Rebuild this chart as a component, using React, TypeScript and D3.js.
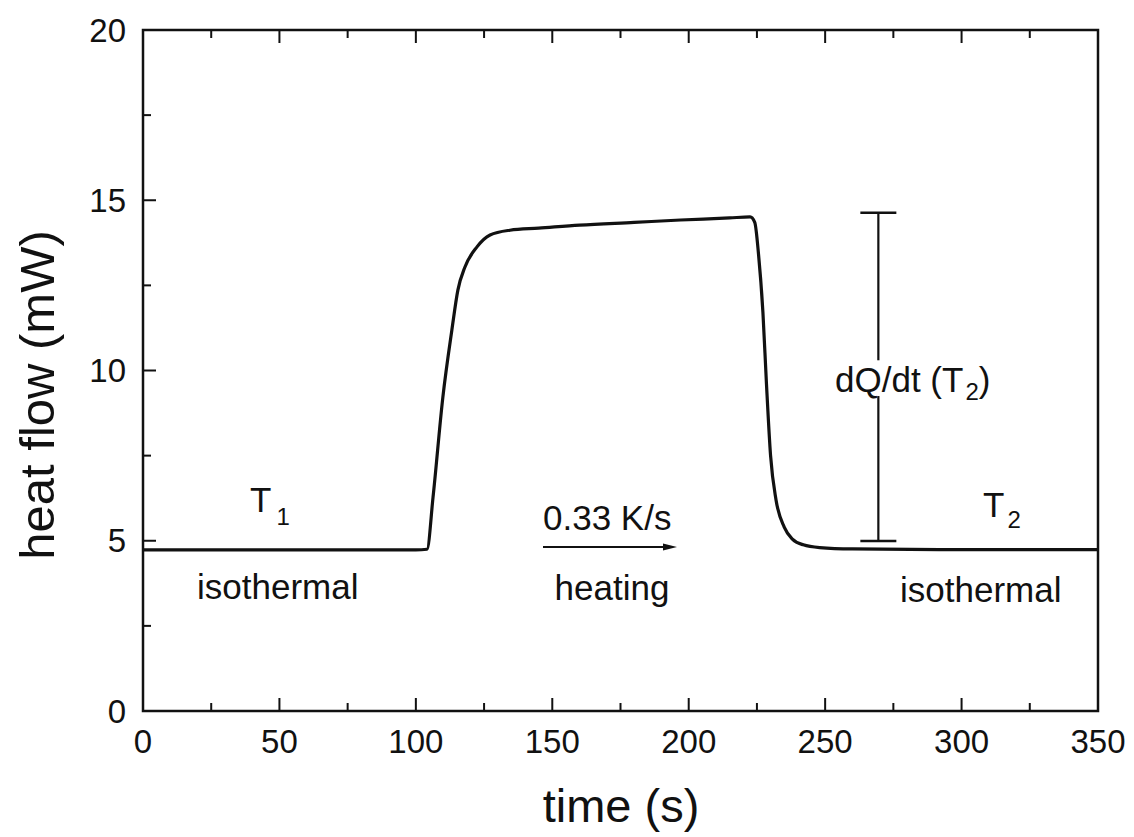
import React from "react";
import * as d3 from "d3";

// Heat flow trace of a step-heating DSC run
const timeS = [
  0, 50, 100, 104.1, 106.3, 109.9, 113.2, 115.4, 118.0, 122.4, 127.2, 134.5,
  145, 160, 180, 197, 215, 222.5, 224.2, 225.6, 227.2, 228.5, 230, 232, 235,
  238, 242, 248, 260, 300, 350,
];
const heatFlowMW = [
  4.73, 4.73, 4.73, 4.75, 6.28, 9.22, 11.19, 12.36, 13.04, 13.63, 13.98, 14.12,
  14.18, 14.27, 14.35, 14.42, 14.48, 14.51, 14.35, 13.4, 11.7, 9.6, 7.5, 6.2,
  5.4, 5.05, 4.88, 4.8, 4.76, 4.74, 4.74,
];

const xMajorTicks = [0, 50, 100, 150, 200, 250, 300, 350];
const xMinorTicks = [25, 75, 125, 175, 225, 275, 325];
const yMajorTicks = [0, 5, 10, 15, 20];
const yMinorTicks = [2.5, 7.5, 12.5, 17.5];

// Step height marker at T2
const stepTime = 269.5;
const stepTop = 14.63;
const stepBottom = 4.99;
// label interrupts the marker between these heat flow values
const stepGapHigh = 10.3;
const stepGapLow = 9.25;

const W = 1134;
const H = 837;
const left = 143;
const right = 1098;
const top = 30;
const bottom = 711;

const FONT = "'Liberation Sans', Arial, Helvetica, sans-serif";
const INK = "#111";

export default function App() {
  const x = d3.scaleLinear().domain([0, 350]).range([left, right]);
  const y = d3.scaleLinear().domain([0, 20]).range([bottom, top]);

  const line = d3
    .line<number>()
    .x((_, i) => x(timeS[i]))
    .y((d) => y(d))
    .curve(d3.curveMonotoneX);

  const pathD = line(heatFlowMW) || "";

  const majorLen = 13;
  const minorLen = 8;

  const xs = x(stepTime);
  const capHalf = 18;

  // arrow for heating ramp
  const arrowY = 547;
  const arrowX0 = 543;
  const arrowX1 = 677;

  return (
    <svg
      width={W}
      height={H}
      viewBox={`0 0 ${W} ${H}`}
      style={{ position: "absolute", left: 0, top: 0, background: "#fff" }}
      fontFamily={FONT}
    >
      <rect x={0} y={0} width={W} height={H} fill="#fff" />

      {/* frame */}
      <rect
        x={left}
        y={top}
        width={right - left}
        height={bottom - top}
        fill="none"
        stroke={INK}
        strokeWidth={2.5}
      />

      {/* bottom and top ticks */}
      {xMajorTicks.map((t) => (
        <g key={`xM${t}`}>
          <line x1={x(t)} x2={x(t)} y1={bottom} y2={bottom - majorLen} stroke={INK} strokeWidth={2} />
          <line x1={x(t)} x2={x(t)} y1={top} y2={top + majorLen} stroke={INK} strokeWidth={2} />
          <text x={x(t)} y={bottom + 42} textAnchor="middle" fontSize={33} fill={INK}>
            {t}
          </text>
        </g>
      ))}
      {xMinorTicks.map((t) => (
        <g key={`xm${t}`}>
          <line x1={x(t)} x2={x(t)} y1={bottom} y2={bottom - minorLen} stroke={INK} strokeWidth={2} />
          <line x1={x(t)} x2={x(t)} y1={top} y2={top + minorLen} stroke={INK} strokeWidth={2} />
        </g>
      ))}

      {/* left ticks */}
      {yMajorTicks.map((v) => (
        <g key={`yM${v}`}>
          <line x1={left} x2={left + majorLen} y1={y(v)} y2={y(v)} stroke={INK} strokeWidth={2} />
          <text
            x={left - 17}
            y={y(v)}
            textAnchor="end"
            dominantBaseline="central"
            fontSize={33}
            fill={INK}
          >
            {v}
          </text>
        </g>
      ))}
      {yMinorTicks.map((v) => (
        <line key={`ym${v}`} x1={left} x2={left + minorLen} y1={y(v)} y2={y(v)} stroke={INK} strokeWidth={2} />
      ))}

      {/* axis titles */}
      <text x={621} y={822} textAnchor="middle" fontSize={47} fill={INK}>
        time (s)
      </text>
      <text
        transform={`translate(54, 395) rotate(-90)`}
        textAnchor="middle"
        fontSize={49}
        fill={INK}
      >
        heat flow (mW)
      </text>

      {/* heat flow curve */}
      <path d={pathD} fill="none" stroke={INK} strokeWidth={3.2} strokeLinejoin="round" />

      {/* step height marker, broken by its label */}
      <line x1={xs} x2={xs} y1={y(stepTop)} y2={y(stepGapHigh)} stroke={INK} strokeWidth={2.2} />
      <line x1={xs} x2={xs} y1={y(stepGapLow)} y2={y(stepBottom)} stroke={INK} strokeWidth={2.2} />
      <line x1={xs - capHalf} x2={xs + capHalf} y1={y(stepTop)} y2={y(stepTop)} stroke={INK} strokeWidth={2.5} />
      <line x1={xs - capHalf} x2={xs + capHalf} y1={y(stepBottom)} y2={y(stepBottom)} stroke={INK} strokeWidth={2.5} />

      {/* heating arrow */}
      <line x1={arrowX0} x2={arrowX1 - 10} y1={arrowY} y2={arrowY} stroke={INK} strokeWidth={2} />
      <path
        d={`M${arrowX1},${arrowY} L${arrowX1 - 14},${arrowY - 3.5} L${arrowX1 - 14},${arrowY + 3.5} Z`}
        fill={INK}
      />

      {/* annotations */}
      <text x={250} y={512} fontSize={35} fill={INK}>
        T<tspan fontSize={24} dx={5} dy={13}>1</tspan>
      </text>
      <text x={197} y={599} fontSize={35} fill={INK}>
        isothermal
      </text>
      <text x={543} y={530} fontSize={35} fill={INK}>
        0.33 K/s
      </text>
      <text x={612} y={600} fontSize={35} textAnchor="middle" fill={INK}>
        heating
      </text>
      <text x={835} y={392} fontSize={35} fill={INK}>
        dQ/dt (T<tspan fontSize={24} dx={2} dy={8}>2</tspan>
        <tspan dy={-8}>)</tspan>
      </text>
      <text x={983} y={517} fontSize={35} fill={INK}>
        T<tspan fontSize={24} dx={3} dy={11}>2</tspan>
      </text>
      <text x={900} y={602} fontSize={35} fill={INK}>
        isothermal
      </text>
    </svg>
  );
}
